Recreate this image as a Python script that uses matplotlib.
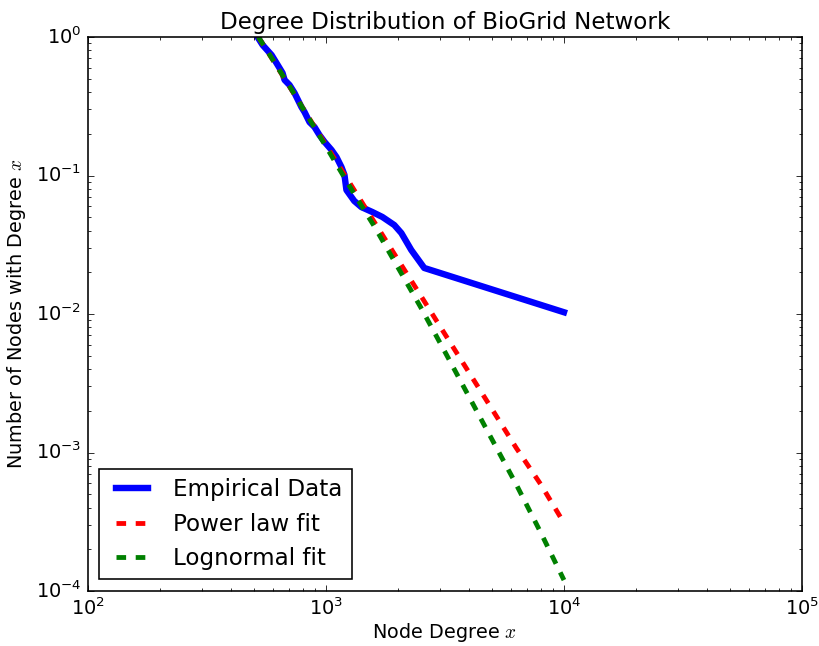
import matplotlib
matplotlib.use('Agg')
import matplotlib.pyplot as plt

# old-school matplotlib look: inward ticks on all sides, black frame
plt.style.use('classic')

# empirical degree distribution (CCDF) of the BioGrid network
degree = [516, 542, 591, 620, 657, 670, 703, 738, 789, 813, 853, 895, 939,
          986, 1055, 1107, 1162, 1196, 1219, 1315, 1408, 1567, 1726, 1937,
          2074, 2282, 2588, 10000]
frac_nodes = [1.0, 0.875, 0.741, 0.648, 0.550, 0.490, 0.450, 0.394, 0.312,
              0.287, 0.243, 0.224, 0.196, 0.175, 0.153, 0.136, 0.115, 0.101,
              0.0786, 0.0655, 0.0592, 0.0545, 0.0502, 0.0439, 0.0384, 0.029,
              0.0215, 0.0103]

# fitted curves, evaluated on a coarser degree grid
fit_degree = [520, 700, 1000, 1300, 1600, 2000, 2500, 3200, 4000, 5000,
              6300, 8000, 10000]
powerlaw_fit = [1.0, 0.443, 0.166, 0.0809, 0.0459, 0.0249, 0.0136, 0.00692,
                0.00376, 0.00204, 0.00108, 0.000587, 0.00031]
lognormal_fit = [1.0, 0.447, 0.162, 0.0759, 0.0427, 0.0219, 0.0112, 0.00513,
                 0.00251, 0.00123, 0.000589, 0.000263, 0.00012]

dpi = 115.3
fig = plt.figure(figsize=(819 / dpi, 646 / dpi), dpi=dpi, facecolor='white')
ax = fig.add_axes([0.1074, 0.0851, 0.8718, 0.8576])

ax.loglog(degree, frac_nodes, color='b', lw=4, label='Empirical Data')
ax.loglog(fit_degree, powerlaw_fit, 'r--', lw=3, label='Power law fit')
ax.loglog(fit_degree, lognormal_fit, 'g--', lw=3, label='Lognormal fit')

ax.set_xlim(1e2, 1e5)
ax.set_ylim(1e-4, 1)
ax.set_title('Degree Distribution of BioGrid Network')
ax.set_xlabel('Node Degree $x$', labelpad=1)
ax.set_ylabel('Number of Nodes with Degree $x$')
ax.legend(loc='lower left')

fig.savefig('out.png', dpi=dpi, facecolor='white')
